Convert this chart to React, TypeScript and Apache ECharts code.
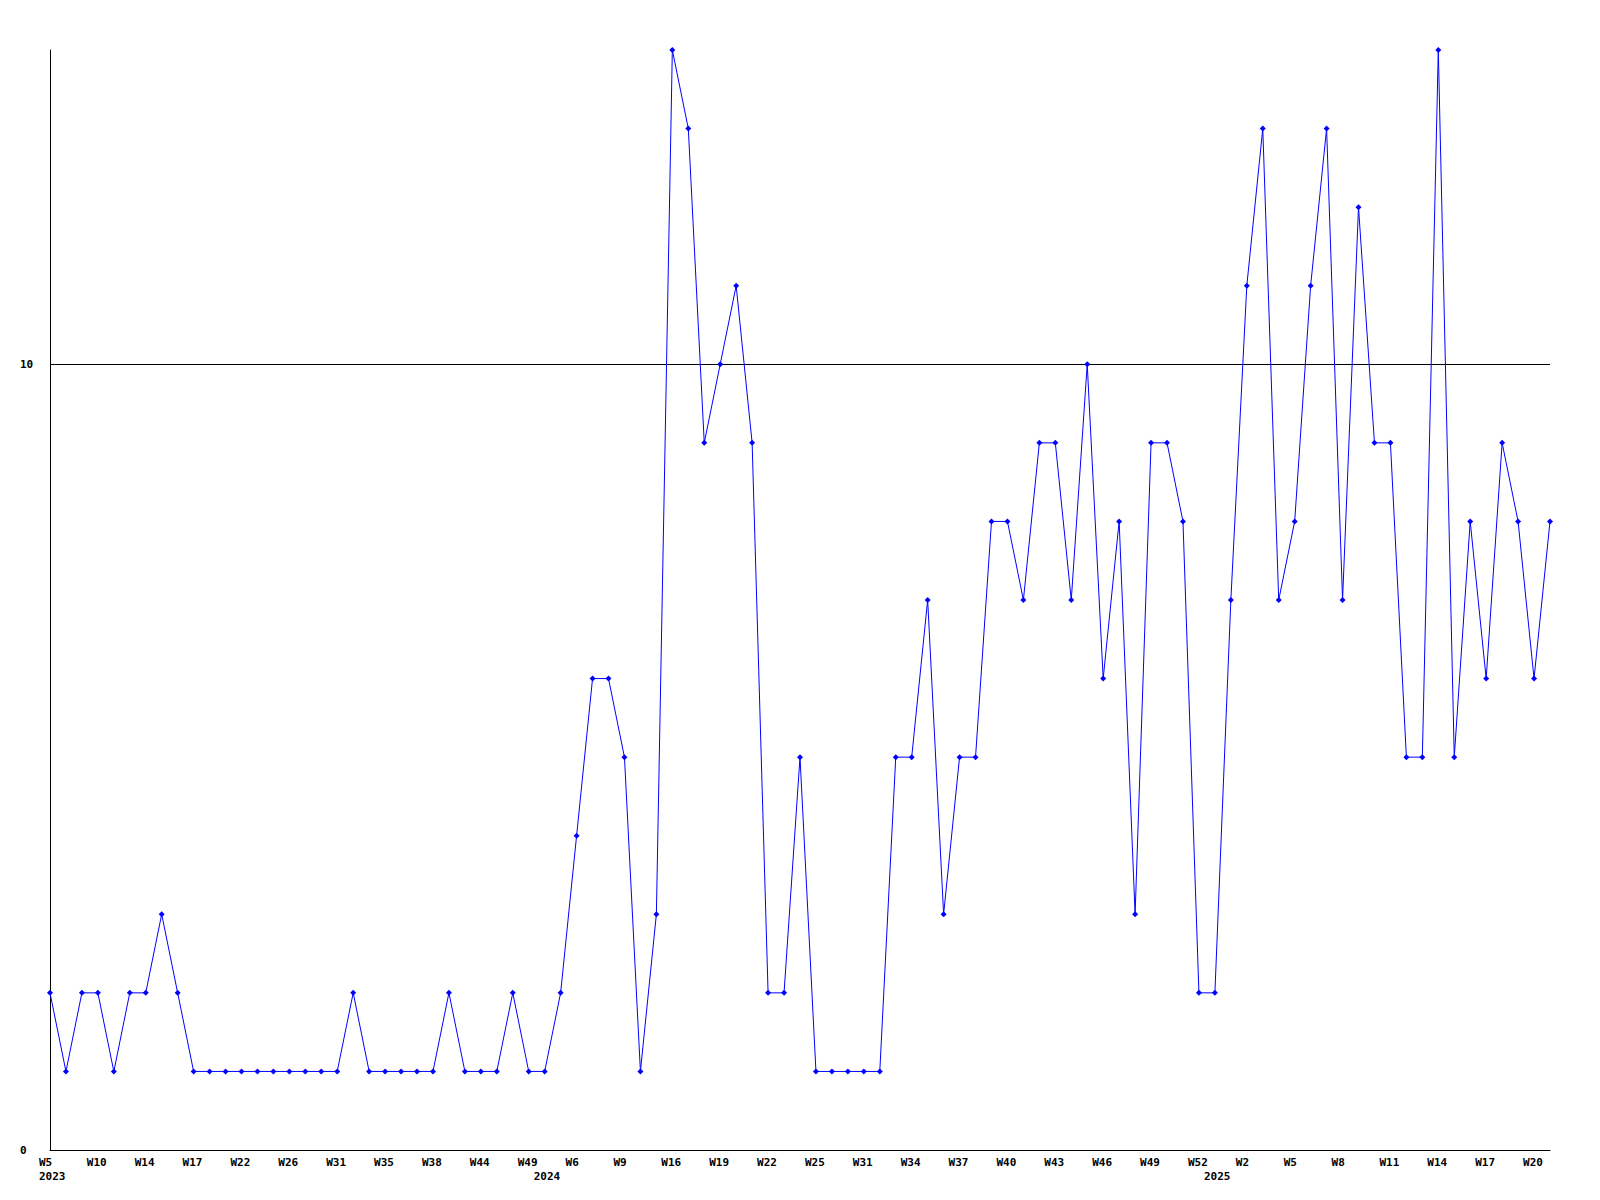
import React, { useEffect, useRef } from "react";
import * as echarts from "echarts";

const weeks: string[] = [
  "W5", "W6", "W8", "W10", "W11", "W12", "W14", "W15", "W16", "W17",
  "W19", "W20", "W22", "W23", "W24", "W26", "W28", "W29", "W31", "W32",
  "W34", "W35", "W36", "W37", "W38", "W40", "W42", "W44", "W46", "W47",
  "W49",
  "W1", "W3", "W6", "W7", "W8", "W9", "W12", "W14", "W16", "W17",
  "W18", "W19", "W20", "W21", "W22", "W23", "W24", "W25", "W27", "W29",
  "W31", "W32", "W33", "W34", "W35", "W36", "W37", "W38", "W39", "W40",
  "W41", "W42", "W43", "W44", "W45", "W46", "W47", "W48", "W49", "W50",
  "W51", "W52",
  "W1", "W1", "W2", "W3", "W4", "W5", "W6", "W7", "W8", "W9",
  "W10", "W11", "W12", "W13", "W14", "W15", "W16", "W17", "W18", "W19",
  "W20", "W21",
];

const yearStartIndex: number[] = [0, 31, 73];
const yearNames: string[] = ["2023", "2024", "2025"];

const values: number[] = [
  2, 1, 2, 2, 1, 2, 2, 3, 2, 1,
  1, 1, 1, 1, 1, 1, 1, 1, 1, 2,
  1, 1, 1, 1, 1, 2, 1, 1, 1, 2,
  1, 1, 2, 4, 6, 6, 5, 1, 3, 14,
  13, 9, 10, 11, 9, 2, 2, 5, 1, 1,
  1, 1, 1, 5, 5, 7, 3, 5, 5, 8,
  8, 7, 9, 9, 7, 10, 6, 8, 3, 9,
  9, 8, 2, 2, 7, 11, 13, 7, 8, 11,
  13, 7, 12, 9, 9, 5, 5, 14, 5, 8,
  6, 9, 8, 6, 8,
];

const yTicks = { min: 0, max: 14, interval: 10 };

const FONT = "DejaVu Sans Mono";

export default function App() {
  const ref = useRef<HTMLDivElement>(null);

  useEffect(() => {
    if (!ref.current) return;
    const chart = echarts.init(ref.current, null, { renderer: "svg" });
    const labelStyle = {
      fontFamily: FONT,
      fontWeight: "bold" as const,
      fontSize: 11,
      color: "#000",
    };
    chart.setOption({
      animation: false,
      backgroundColor: "#fff",
      grid: [
        { left: 50, right: 50, top: 50, bottom: 50, containLabel: false },
        { left: 39, right: 61, top: 50, bottom: 50, containLabel: false },
      ],
      xAxis: [
        {
          type: "category",
          gridIndex: 0,
          data: weeks,
          boundaryGap: false,
          axisLine: { show: true, lineStyle: { color: "#000", width: 1 } },
          axisTick: { show: false },
          axisLabel: { show: false },
          splitLine: { show: false },
        },
        {
          type: "category",
          gridIndex: 1,
          data: weeks,
          boundaryGap: false,
          axisLine: { show: false },
          axisTick: { show: false },
          splitLine: { show: false },
          axisLabel: {
            ...labelStyle,
            interval: 0,
            align: "left",
            margin: 5,
            lineHeight: 14.5,
            formatter: (value: string, index: number) => {
              const w = index % 3 === 0 ? value : "";
              const yi = yearStartIndex.indexOf(index);
              const y = yi >= 0 ? yearNames[yi] : "";
              if (!w && !y) return "";
              return w + "\n" + y;
            },
          },
        },
      ],
      yAxis: [
        {
          type: "value",
          gridIndex: 0,
          min: yTicks.min,
          max: yTicks.max,
          interval: yTicks.interval,
          axisLine: { show: true, lineStyle: { color: "#000", width: 1 } },
          axisTick: { show: false },
          axisLabel: {
            ...labelStyle,
            align: "left",
            margin: 30,
            showMaxLabel: false,
          },
          splitLine: {
            show: true,
            showMinLine: false,
            showMaxLine: false,
            lineStyle: { color: "#000", width: 1 },
          },
        },
        {
          type: "value",
          gridIndex: 1,
          min: yTicks.min,
          max: yTicks.max,
          show: false,
        },
      ],
      series: [
        {
          type: "line",
          xAxisIndex: 0,
          yAxisIndex: 0,
          data: values,
          color: "#0000ff",
          lineStyle: { color: "#0000ff", width: 1 },
          itemStyle: { color: "#0000ff" },
          symbol: "diamond",
          symbolSize: 6,
          showSymbol: true,
          showAllSymbol: true,
        },
      ],
    });
    return () => chart.dispose();
  }, []);

  return (
    <div
      ref={ref}
      style={{ position: "absolute", left: 0, top: 0, width: 1600, height: 1200 }}
    />
  );
}
